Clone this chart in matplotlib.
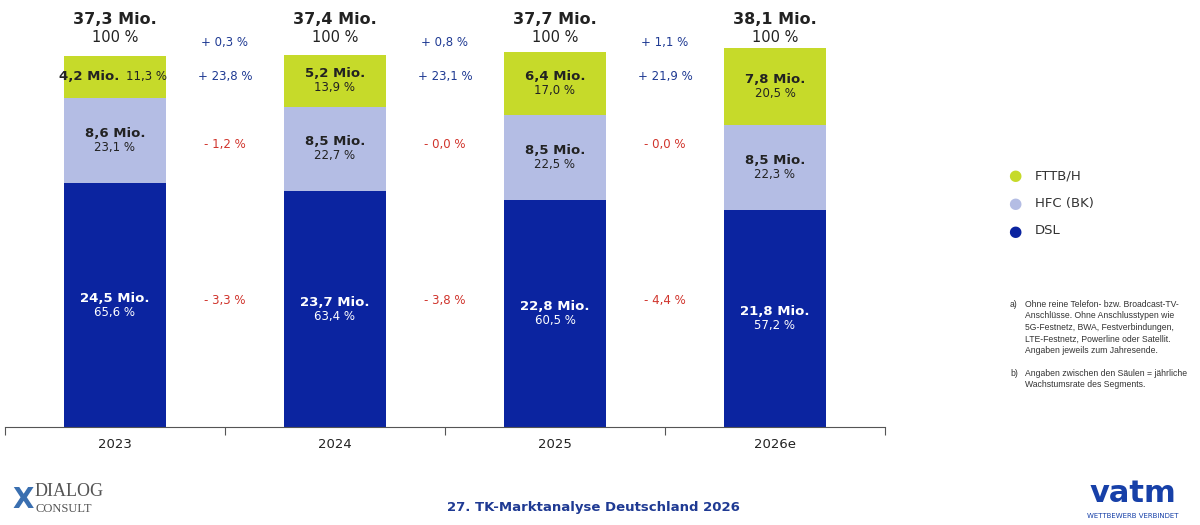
import matplotlib
matplotlib.use("Agg")
import matplotlib.pyplot as plt

years = ["2023", "2024", "2025", "2026e"]
dsl = [24.5, 23.7, 22.8, 21.8]
hfc = [8.6, 8.5, 8.5, 8.5]
fttb = [4.2, 5.2, 6.4, 7.8]
dsl_pct = ["65,6 %", "63,4 %", "60,5 %", "57,2 %"]
hfc_pct = ["23,1 %", "22,7 %", "22,5 %", "22,3 %"]
fttb_pct = ["11,3 %", "13,9 %", "17,0 %", "20,5 %"]
totals = ["37,3 Mio.", "37,4 Mio.", "37,7 Mio.", "38,1 Mio."]
g_total = ["+ 0,3 %", "+ 0,8 %", "+ 1,1 %"]
g_fttb = ["+ 23,8 %", "+ 23,1 %", "+ 21,9 %"]
g_hfc = ["- 1,2 %", "- 0,0 %", "- 0,0 %"]
g_dsl = ["- 3,3 %", "- 3,8 %", "- 4,4 %"]

C_DSL, C_HFC, C_FT = "#0b24a0", "#b4bde4", "#c6da2a"
BLUE, RED = "#1f3a93", "#d0342c"
fmt = lambda v: f"{v:.1f}".replace(".", ",") + " Mio."

W, H = 1200, 525
fig = plt.figure(figsize=(12, 5.25), dpi=100)
ax = fig.add_axes([5/W, (H-427)/H, 880/W, 427/H])
x = range(4)
ax.bar(x, dsl, 0.465, color=C_DSL)
ax.bar(x, hfc, 0.465, bottom=dsl, color=C_HFC)
b2 = [d+h for d, h in zip(dsl, hfc)]
ax.bar(x, fttb, 0.465, bottom=b2, color=C_FT)
ax.set_xlim(-0.5, 3.5)
ax.set_ylim(0, 42.9)
for s in ["top", "right", "left"]:
    ax.spines[s].set_visible(False)
ax.spines["bottom"].set_color("#555555")
ax.set_yticks([])
ax.set_xticks([-0.5, 0.5, 1.5, 2.5, 3.5])
ax.set_xticklabels([])
ax.tick_params(axis="x", length=6, color="#555555", direction="out")
for i in x:
    ax.text(i, -1.8, years[i], ha="center", va="center", fontsize=9.5, color="#222")
    ax.text(i, dsl[i]/2+0.7, fmt(dsl[i]), ha="center", va="center", color="white", fontsize=9.5, fontweight="semibold")
    ax.text(i, dsl[i]/2-0.7, dsl_pct[i], ha="center", va="center", color="white", fontsize=8.5)
    ym = dsl[i]+hfc[i]/2
    ax.text(i, ym+0.7, fmt(hfc[i]), ha="center", va="center", color="#222", fontsize=9.5, fontweight="semibold")
    ax.text(i, ym-0.7, hfc_pct[i], ha="center", va="center", color="#222", fontsize=8.5)
    yf = b2[i]+fttb[i]/2
    if i == 0:
        ax.text(i+0.02, yf, fmt(fttb[i]), ha="right", va="center", color="#222", fontsize=9.5, fontweight="semibold")
        ax.text(i+0.05, yf, fttb_pct[i], ha="left", va="center", color="#222", fontsize=8.5)
    else:
        ax.text(i, yf+0.7, fmt(fttb[i]), ha="center", va="center", color="#222", fontsize=9.5, fontweight="semibold")
        ax.text(i, yf-0.7, fttb_pct[i], ha="center", va="center", color="#222", fontsize=8.5)
    ax.text(i, 40.9, totals[i], ha="center", va="center", color="#222", fontsize=11.5, fontweight="bold")
    ax.text(i, 39.1, "100 %", ha="center", va="center", color="#222", fontsize=10.5)
for j in range(3):
    xm = j + 0.5
    ax.text(xm, 38.6, g_total[j], ha="center", va="center", color=BLUE, fontsize=8.5)
    ax.text(xm, 35.2, g_fttb[j], ha="center", va="center", color=BLUE, fontsize=8.5)
    ax.text(xm, 28.4, g_hfc[j], ha="center", va="center", color=RED, fontsize=8.5)
    ax.text(xm, 12.7, g_dsl[j], ha="center", va="center", color=RED, fontsize=8.5)

for yy, lab, c in [(176, "FTTB/H", C_FT), (203, "HFC (BK)", C_HFC), (231, "DSL", C_DSL)]:
    fig.text(1015/W, 1-yy/H, "\u25CF", color=c, fontsize=11, ha="center", va="center")
    fig.text(1035/W, 1-yy/H, lab, color="#333", fontsize=9.5, ha="left", va="center")

FN = dict(fontsize=6.2, color="#333", va="top", family="Liberation Sans", linespacing=1.35)
fig.text(1010/W, 1-300/H, "a)", **FN)
fig.text(1025/W, 1-300/H, "Ohne reine Telefon- bzw. Broadcast-TV-\nAnschlüsse. Ohne Anschlusstypen wie\n5G-Festnetz, BWA, Festverbindungen,\nLTE-Festnetz, Powerline oder Satellit.\nAngaben jeweils zum Jahresende.", **FN)
fig.text(1010/W, 1-369/H, "b)", **FN)
fig.text(1025/W, 1-369/H, "Angaben zwischen den Säulen = jährliche\nWachstumsrate des Segments.", **FN)

fig.text(593/W, 1-508/H, "27. TK-Marktanalyse Deutschland 2026", ha="center", va="center", fontsize=9.5, color="#1f3a93", fontweight="bold")
fig.text(35/W, 1-492/H, "DIALOG", fontsize=13, family="Liberation Serif", color="#555", va="center")
fig.text(35/W, 1-509/H, "CONSULT", fontsize=9, family="Liberation Serif", color="#555", va="center")
fig.text(12/W, 1-500/H, "X", fontsize=20, color="#3a6fb0", va="center", fontweight="bold")
fig.text(1133/W, 1-493/H, "vatm", fontsize=22, color="#1740a8", ha="center", va="center", fontweight="bold")
fig.text(1133/W, 1-516/H, "WETTBEWERB VERBINDET", fontsize=5, color="#1740a8", ha="center", va="center")
fig.savefig("out.png", dpi=100)
